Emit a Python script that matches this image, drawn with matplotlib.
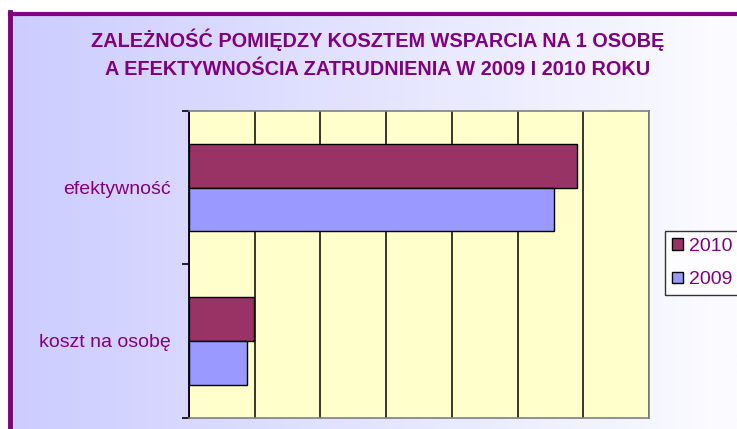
"""
Bar chart: koszt wsparcia vs efektywnosc zatrudnienia, 2009 / 2010
"""
import numpy as np
import matplotlib
matplotlib.use("Agg")
import matplotlib.pyplot as plt
from matplotlib.lines import Line2D
from matplotlib.patches import Patch

plt.rcParams['font.family'] = ['Liberation Sans', 'DejaVu Sans']

# data (axis scale has no visible labels)
categories = ["koszt na osobę", "efektywność"]
values_2010 = [9.9, 59.0]
values_2009 = [8.8, 55.5]
series_labels = ["2010", "2009"]

title = ("ZALEŻNOŚĆ POMIĘDZY KOSZTEM WSPARCIA NA 1 OSOBĘ\n"
         "A EFEKTYWNOŚCIA ZATRUDNIENIA W 2009 I 2010 ROKU")

purple = "#800080"
col_2010 = "#993366"
col_2009 = "#9999FF"

W, H = 737, 429
fig = plt.figure(figsize=(W / 100, H / 100), dpi=100)
fig.patch.set_facecolor("white")

# gradient background inside the frame
bg = fig.add_axes([10 / W, 0, 1 - 10 / W, 1 - 14 / H], zorder=-10)
grad = np.linspace(0, 1, 256)
left = np.array([204, 204, 255]) / 255
right = np.array([252, 252, 255]) / 255
img = left[None, :] * (1 - grad[:, None]) + right[None, :] * grad[:, None]
bg.imshow(img[None, :, :], aspect="auto", extent=[0, 1, 0, 1])
bg.set_axis_off()

# purple frame (top and left edges visible)
fig.add_artist(Line2D([9.5 / W, 1], [1 - 13.5 / H, 1 - 13.5 / H],
                      transform=fig.transFigure, color=purple, lw=3))
fig.add_artist(Line2D([9.5 / W, 9.5 / W], [0, 1 - 12 / H],
                      transform=fig.transFigure, color=purple, lw=3.5))

fig.text(378 / W, 1 - 53.5 / H, title, ha="center", va="center",
         fontsize=14.3, fontweight="bold", color=purple, linespacing=1.6)

ax = fig.add_axes([189 / W, 1 - 417.5 / H, 460 / W, 306.5 / H])
ax.set_facecolor("#FFFFCC")

y = np.arange(len(categories))
h = 0.286
ax.barh(y + h / 2, values_2010, height=h, color=col_2010,
        edgecolor="black", linewidth=1, label=series_labels[0], zorder=3)
ax.barh(y - h / 2, values_2009, height=h, color=col_2009,
        edgecolor="black", linewidth=1, label=series_labels[1], zorder=3)

ax.set_xlim(0, 70)
ax.set_ylim(-0.5, 1.5)
ax.set_xticks(np.arange(0, 71, 10))
ax.set_xticklabels([])
ax.tick_params(axis="x", length=0)
ax.grid(axis="x", color="black", linewidth=1.1, zorder=1)
ax.set_axisbelow(True)

ax.set_yticks(y)
ax.set_yticklabels(categories, fontsize=14, color=purple)
ax.tick_params(axis="y", which="major", length=0, pad=13)
ax.set_yticks([-0.5, 0.5, 1.5], minor=True)
ax.tick_params(axis="y", which="minor", length=5, width=1.2, color="black")

for s in ["top", "right", "bottom"]:
    ax.spines[s].set_color("#808080")
    ax.spines[s].set_linewidth(1.2)
ax.spines["left"].set_color("black")
ax.spines["left"].set_linewidth(1.3)

handles = [Patch(facecolor=col_2010, edgecolor="black"),
           Patch(facecolor=col_2009, edgecolor="black")]
leg = fig.legend(handles, series_labels, loc="upper left",
                 bbox_to_anchor=(665 / W, 1 - 231 / H), fontsize=14,
                 frameon=True, fancybox=False, handlelength=0.55,
                 handleheight=0.55, handletextpad=0.35, borderpad=0.35,
                 labelspacing=0.85, borderaxespad=0)
leg.get_frame().set_edgecolor("black")
leg.get_frame().set_linewidth(1)
for t in leg.get_texts():
    t.set_color(purple)

fig.savefig("out.png", dpi=100)
